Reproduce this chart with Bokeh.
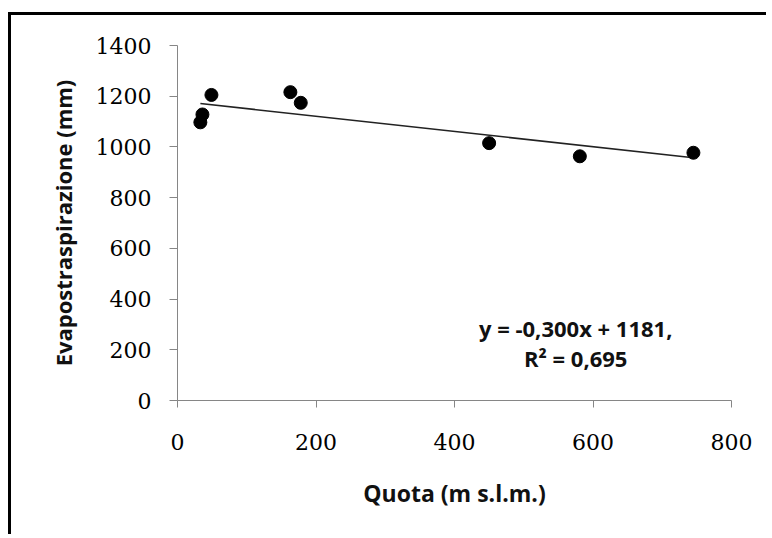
from bokeh.plotting import figure
from bokeh.models import FixedTicker, Label
from bokeh.embed import file_html
from bokeh.resources import INLINE

# Data
quota = [33, 36, 49, 163, 178, 450, 581, 745]
evapo = [1097, 1128, 1205, 1216, 1174, 1015, 963, 977]
trend_slope = -0.300
trend_intercept = 1181
eq_line1 = "y = -0,300x + 1181,"
eq_line2 = "R\u00b2 = 0,695"
x_ticks = [0, 200, 400, 600, 800]
y_ticks = [0, 200, 400, 600, 800, 1000, 1200, 1400]

p = figure(width=758, height=522, output_backend="svg", toolbar_location=None,
           x_range=(0, 800), y_range=(0, 1400),
           min_border_left=166, min_border_right=38, min_border_top=30, min_border_bottom=137)
p.styles = {"border-left": "3px solid black", "border-top": "3px solid black",
            "margin-top": "12px", "margin-left": "8px"}
p.outline_line_color = None
p.xgrid.visible = False
p.ygrid.visible = False
p.background_fill_color = "white"
p.border_fill_color = "white"

for ax in (p.xaxis[0], p.yaxis[0]):
    ax.axis_line_color = "#868686"
    ax.major_tick_line_color = "#868686"
    ax.minor_tick_line_color = None
    ax.major_tick_in = 0
    ax.major_tick_out = 8
    ax.major_label_text_font = "DejaVu Serif"
    ax.major_label_text_font_size = "22px"
    ax.major_label_text_color = "#000000"
    ax.axis_label_text_font = "Open Sans"
    ax.axis_label_text_font_style = "bold"
    ax.axis_label_text_font_size = "22px"
    ax.axis_label_text_color = "#111111"

p.xaxis.ticker = FixedTicker(ticks=x_ticks)
p.yaxis.ticker = FixedTicker(ticks=y_ticks)
p.xaxis.major_tick_out = 7
p.xaxis.major_label_standoff = 26
p.yaxis.major_label_standoff = 18
p.xaxis.axis_label = "Quota (m s.l.m.)"
p.xaxis.axis_label_text_font_size = "23px"
p.yaxis.axis_label = "Evapostraspirazione (mm)"
p.xaxis.axis_label_standoff = 24
p.yaxis.axis_label_standoff = 15

# trend line
x0, x1 = min(quota), max(quota)
p.line([x0, x1], [trend_slope * x0 + trend_intercept, trend_slope * x1 + trend_intercept],
       line_color="#222222", line_width=1.6)

p.scatter(quota, evapo, size=13, color="black")

for txt, yy in ((eq_line1, 284), (eq_line2, 166)):
    p.add_layout(Label(x=575, y=yy, text=txt, text_align="center", text_baseline="middle",
                       text_font="Open Sans", text_font_style="bold", text_font_size="22px",
                       text_color="#111111"))

open("out.html", "w").write(file_html(p, INLINE))
